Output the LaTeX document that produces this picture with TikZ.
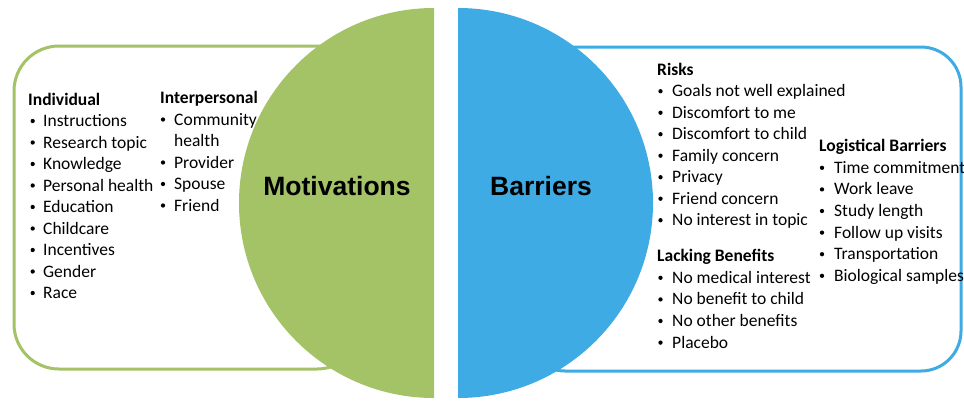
\documentclass[tikz,border=0pt]{standalone}
\usepackage{fontspec}
\setmainfont{Carlito}
\setsansfont{Liberation Sans}
\definecolor{motgreen}{RGB}{164,194,102}
\definecolor{barblue}{RGB}{62,171,228}
\begin{document}
\begin{tikzpicture}[x=1pt,y=-1pt,
  txt/.style={inner sep=0pt,anchor=base west,font=\fontsize{17.5}{21}\selectfont},
  head/.style={txt,font=\fontsize{17.5}{21}\selectfont\bfseries},
  bul/.style={circle,fill=black,inner sep=0pt,minimum size=4.3pt,yshift=5.5pt},
  title/.style={inner sep=0pt,anchor=base,font=\fontsize{26.5}{30}\selectfont\sffamily\bfseries}]
\useasboundingbox (0,0) rectangle (964,400);
% framed panels behind the half discs
\draw[motgreen,line width=3pt,fill=white,rounded corners=45pt] (14,46) rectangle (362,369);
\draw[barblue,line width=3pt,fill=white,rounded corners=40pt] (525,47) rectangle (961,371);
% half discs
\fill[motgreen] (434,8) arc[start angle=270,end angle=90,radius=195] -- cycle;
\fill[barblue] (458,8) arc[start angle=-90,end angle=90,radius=195] -- cycle;
\node[title] (mot) at (337,195) {Motivations};
\node[title] (bar) at (541,195) {Barriers};
% motivations: individual
\node[head] (indh) at (28,105) {Individual};
\foreach \t [count=\i] in {Instructions,Research topic,Knowledge,Personal health,Education,Childcare,Incentives,Gender,Race}{
  \node[bul] (indb\i) at (32.7,{126.5+21.5*(\i-1)}) {};
  \node[txt] (ind\i) at (43,{126.5+21.5*(\i-1)}) {\t};
}
% motivations: interpersonal
\node[head] (inth) at (160,103.5) {Interpersonal};
\node[bul] (intb1) at (163,125) {};
\node[txt] (int1) at (174,125) {Community};
\node[txt] (int1b) at (174,146.5) {health};
\foreach \t [count=\i from 2] in {Provider,Spouse,Friend}{
  \node[bul] (intb\i) at (163,{125+21.5*\i}) {};
  \node[txt] (int\i) at (174,{125+21.5*\i}) {\t};
}
% barriers: risks
\node[head] (riskh) at (657,75) {Risks};
\foreach \t [count=\i] in {Goals not well explained,Discomfort to me,Discomfort to child,Family concern,Privacy,Friend concern,No interest in topic}{
  \node[bul] (riskb\i) at (660.5,{96.7+21.5*(\i-1)}) {};
  \node[txt] (risk\i) at (672,{96.7+21.5*(\i-1)}) {\t};
}
% barriers: lacking benefits
\node[head] (lackh) at (657,261.7) {Lacking Benefits};
\foreach \t [count=\i] in {No medical interest,No benefit to child,No other benefits,Placebo}{
  \node[bul] (lackb\i) at (660.5,{283.3+21.6*(\i-1)}) {};
  \node[txt] (lack\i) at (672,{283.3+21.6*(\i-1)}) {\t};
}
% barriers: logistical
\node[head] (logh) at (819,151.7) {Logistical Barriers};
\foreach \t [count=\i] in {Time commitment,Work leave,Study length,Follow up visits,Transportation,Biological samples}{
  \node[bul] (logb\i) at (822,{173.3+21.6*(\i-1)}) {};
  \node[txt] (log\i) at (834,{173.3+21.6*(\i-1)}) {\t};
}
\end{tikzpicture}
\end{document}
